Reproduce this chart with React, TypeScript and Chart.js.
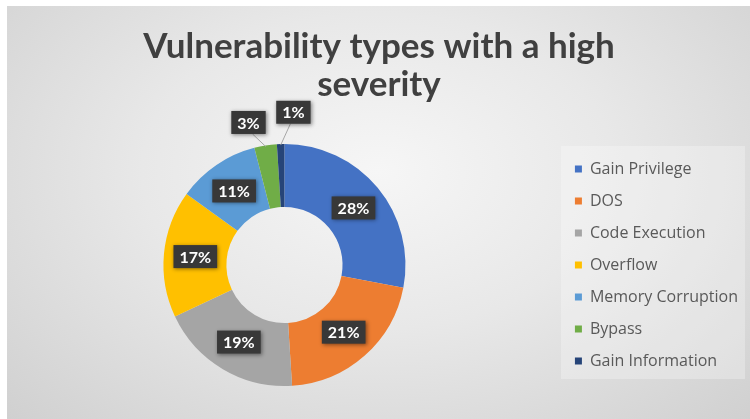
import React, { useEffect, useRef } from "react";
import { Chart, registerables } from "chart.js";

Chart.register(...registerables);

const categories = [
  "Gain Privilege",
  "DOS",
  "Code Execution",
  "Overflow",
  "Memory Corruption",
  "Bypass",
  "Gain Information",
];
const values = [28, 21, 19, 17, 11, 3, 1];
const colors = ["#4472C4", "#ED7D31", "#A5A5A5", "#FFC000", "#5B9BD5", "#70AD47", "#264478"];
const titleLines = ["Vulnerability types with a high", "severity"];

const legendBgPlugin = {
  id: "legendBg",
  beforeDraw(chart: any) {
    const lg = chart.legend;
    if (!lg) return;
    const ctx = chart.ctx;
    ctx.save();
    ctx.fillStyle = "rgba(255,255,255,0.28)";
    const cy = (chart.chartArea.top + chart.chartArea.bottom) / 2;
    const top = cy - 119;
    const bottom = cy + 114;
    ctx.fillRect(lg.left + 2, top, lg.right - lg.left - 5, bottom - top);
    ctx.restore();
  },
};

const labelPlugin = {
  id: "pctLabels",
  afterDatasetsDraw(chart: any) {
    const ctx = chart.ctx;
    const meta = chart.getDatasetMeta(0);
    const data = chart.data.datasets[0].data as number[];
    const total = data.reduce((a, b) => a + b, 0);
    let smallIdx = 0;
    meta.data.forEach((arc: any, i: number) => {
      const p = arc.getProps(["x", "y", "startAngle", "endAngle", "innerRadius", "outerRadius"], true);
      const mid = (p.startAngle + p.endAngle) / 2;
      const pct = Math.round((data[i] / total) * 100);
      const text = pct + "%";
      ctx.save();
      ctx.font = "bold 16px Lato";
      const tw = ctx.measureText(text).width;
      const bw = tw + 12;
      const bh = 23;
      let lx: number, ly: number;
      const small = pct < 5;
      if (!small) {
        const r = (p.innerRadius + p.outerRadius) / 2;
        lx = p.x + Math.cos(mid) * r;
        ly = p.y + Math.sin(mid) * r;
      } else {
        const ang = mid + (smallIdx === 0 ? -0.09 : 0.09);
        const r = p.outerRadius + 26 + smallIdx * 6;
        lx = p.x + Math.cos(ang) * r;
        ly = p.y + Math.sin(ang) * r;
        ctx.strokeStyle = "#a6a6a6";
        ctx.lineWidth = 1;
        ctx.beginPath();
        ctx.moveTo(lx + (smallIdx === 0 ? 4 : -3), ly + bh / 2);
        ctx.lineTo(p.x + Math.cos(mid) * (p.outerRadius - 1), p.y + Math.sin(mid) * (p.outerRadius - 1));
        ctx.stroke();
        smallIdx++;
      }
      ctx.shadowColor = "rgba(0,0,0,0.45)";
      ctx.shadowBlur = 4;
      ctx.shadowOffsetX = 1;
      ctx.shadowOffsetY = 1;
      ctx.fillStyle = "#383838";
      ctx.fillRect(lx - bw / 2, ly - bh / 2, bw, bh);
      ctx.shadowColor = "transparent";
      ctx.fillStyle = "#ffffff";
      ctx.textAlign = "center";
      ctx.textBaseline = "middle";
      ctx.fillText(text, lx, ly + 1);
      ctx.restore();
    });
  },
};

export default function App() {
  const ref = useRef<HTMLCanvasElement | null>(null);
  useEffect(() => {
    if (!ref.current) return;
    const chart = new Chart(ref.current, {
      type: "doughnut",
      data: {
        labels: categories,
        datasets: [
          {
            data: values,
            backgroundColor: colors,
            borderWidth: 0,
            radius: 121,
          } as any,
        ],
      },
      options: {
        animation: false,
        responsive: false,
        cutout: "48%",
        layout: { padding: { left: 10, right: 2, top: 0, bottom: 14 } },
        plugins: {
          tooltip: { enabled: false },
          title: {
            display: true,
            text: titleLines,
            color: "#404040",
            font: { family: "Lato", size: 35, weight: "bold", lineHeight: 1.1 },
            padding: { top: 27, bottom: 21 },
          },
          legend: {
            position: "right",
            align: "center",
            fullSize: false,
            labels: {
              boxWidth: 7,
              boxHeight: 7,
              padding: 16,
              color: "#595959",
              font: { family: "Open Sans", size: 16 },
            },
          },
        },
      },
      plugins: [legendBgPlugin, labelPlugin],
    });
    return () => chart.destroy();
  }, []);
  return (
    <div
      style={{
        position: "fixed",
        left: 0,
        top: 0,
        width: 750,
        height: 419,
        background: "#ffffff",
      }}
    >
      <div
        style={{
          position: "absolute",
          left: 7,
          top: 6,
          width: 743,
          height: 413,
          background:
            "radial-gradient(ellipse at 50% 40%, #f6f6f6 0%, #e8e8e8 45%, #d0d0d0 100%)",
        }}
      />
      <canvas
        ref={ref}
        width={750}
        height={419}
        style={{ position: "absolute", left: 0, top: 0, width: 750, height: 419 }}
      />
    </div>
  );
}
